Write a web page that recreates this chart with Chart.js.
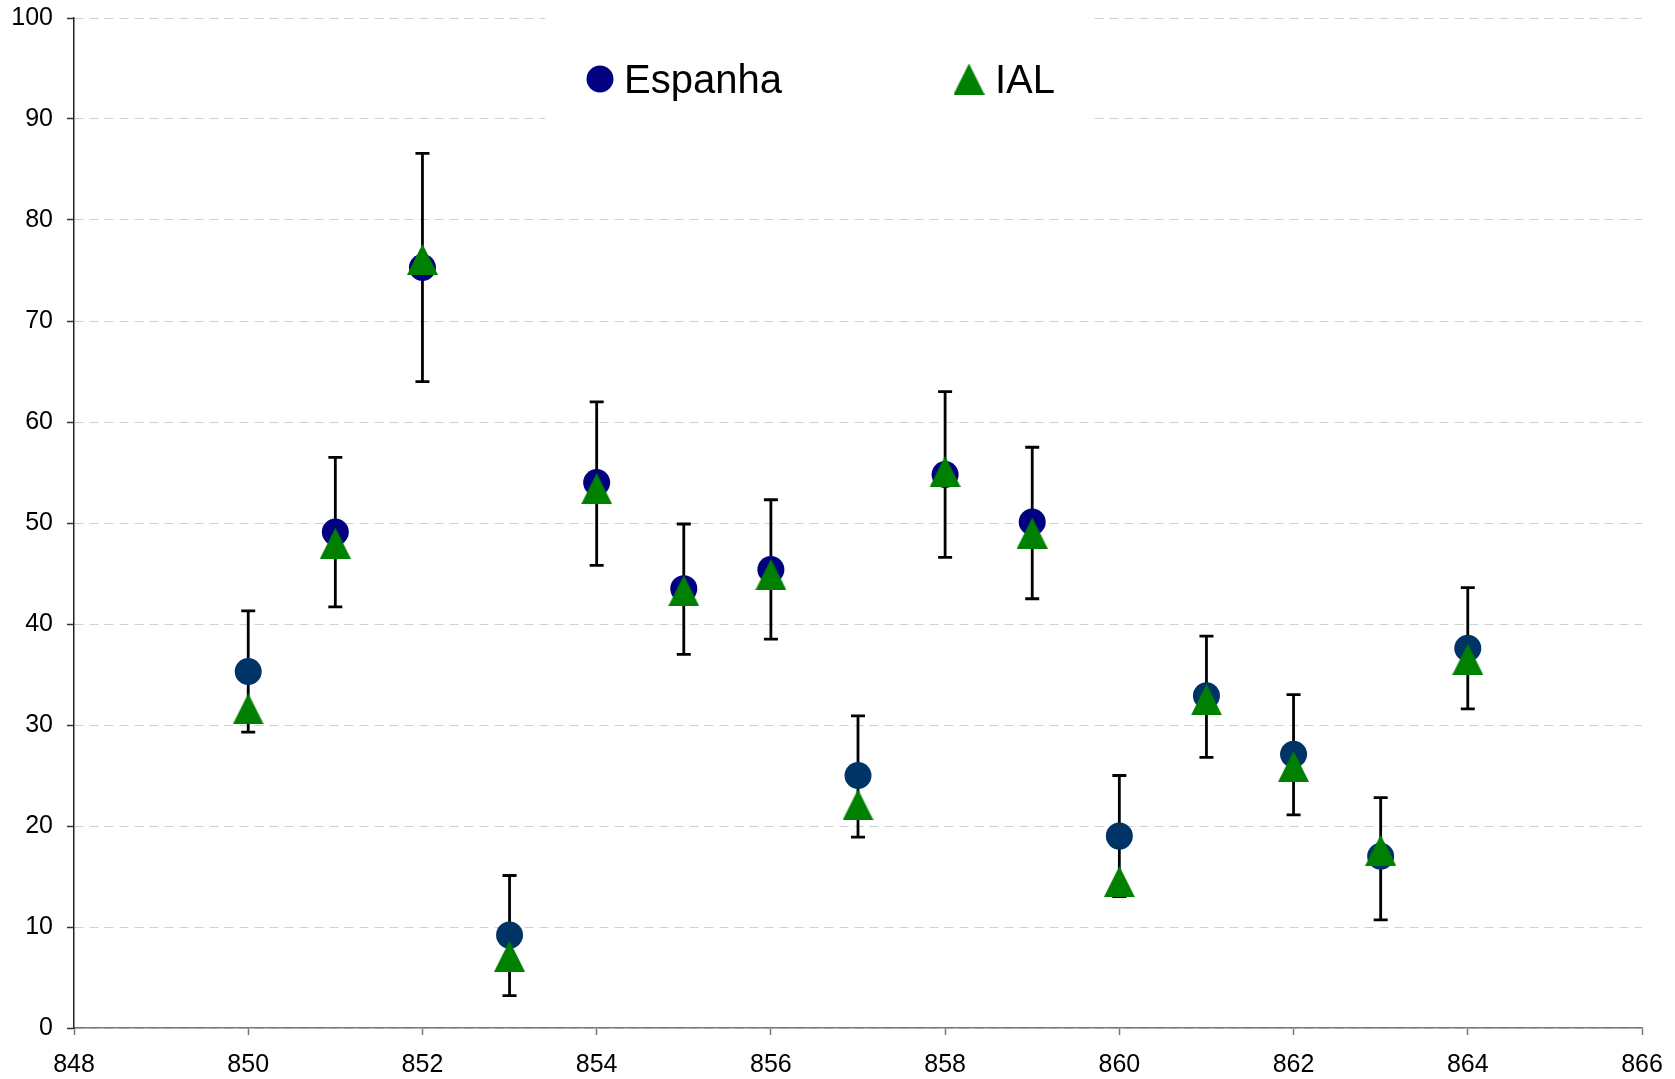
<!DOCTYPE html>
<html>
<head>
<meta charset="utf-8">
<script src="https://cdn.jsdelivr.net/npm/chart.js@4/dist/chart.umd.min.js"></script>
<style>
  html, body { margin: 0; padding: 0; background: #fff; }
  #wrap { width: 1675px; height: 1079px; }
</style>
</head>
<body>
<div id="wrap"><canvas id="grafico" width="1675" height="1079"></canvas></div>
<script>
// Données
const annees = [850, 851, 852, 853, 854, 855, 856, 857, 858, 859, 860, 861, 862, 863, 864];
const espanha = [35.3, 49.1, 75.3, 9.2, 54.0, 43.5, 45.4, 25.0, 54.8, 50.1, 19.0, 32.9, 27.1, 17.0, 37.6];
const ial = [31.6, 48.0, 76.1, 7.1, 53.4, 43.3, 44.9, 22.1, 55.1, 49.0, 14.5, 32.5, 25.9, 17.6, 36.5];
const erroSup = [41.3, 56.5, 86.6, 15.1, 62.0, 49.9, 52.3, 30.9, 63.0, 57.5, 25.0, 38.8, 33.0, 22.8, 43.6];
const erroInf = [29.3, 41.7, 64.0, 3.2, 45.8, 37.0, 38.5, 18.9, 46.6, 42.5, 13.0, 26.8, 21.1, 10.7, 31.6];
const series = ['Espanha', 'IAL'];

const corCirculo = ['#003366', '#000080', '#000080', '#003366', '#000080', '#000080', '#000080',
  '#003366', '#000080', '#000080', '#003366', '#003366', '#003366', '#003366', '#003366'];
const verde = '#008000';
const fonte = "'Liberation Sans', Arial, Helvetica, sans-serif";

// triangle centré sur sa boîte (comme Excel)
function fazerTriangulo(t) {
  const c = document.createElement('canvas');
  c.width = t; c.height = t;
  const g = c.getContext('2d');
  g.fillStyle = verde;
  g.beginPath();
  g.moveTo(t / 2, 0);
  g.lineTo(t, t);
  g.lineTo(0, t);
  g.closePath();
  g.fill();
  return c;
}
const triangulo = fazerTriangulo(31);

// barres d'erreur + cadre blanc de la légende
const pluginErros = {
  id: 'erros',
  beforeDatasetsDraw(chart) {
    const ctx = chart.ctx;
    const sx = chart.scales.x, sy = chart.scales.y;
    ctx.save();
    ctx.fillStyle = '#fff';
    ctx.fillRect(545, 0, 543, 135);

    ctx.strokeStyle = '#000';
    ctx.lineWidth = 2.8;
    annees.forEach((a, i) => {
      const x = sx.getPixelForValue(a);
      const y1 = sy.getPixelForValue(erroSup[i]);
      const y2 = sy.getPixelForValue(erroInf[i]);
      ctx.beginPath();
      ctx.moveTo(x, y1); ctx.lineTo(x, y2);
      ctx.moveTo(x - 7, y1); ctx.lineTo(x + 7, y1);
      ctx.moveTo(x - 7, y2); ctx.lineTo(x + 7, y2);
      ctx.stroke();
    });
    ctx.restore();
  },
  afterDatasetsDraw(chart) {
    const ctx = chart.ctx;
    ctx.save();
    ctx.fillStyle = '#000080';
    ctx.beginPath();
    ctx.arc(600, 79, 13.5, 0, Math.PI * 2);
    ctx.fill();
    ctx.drawImage(triangulo, 969 - 15.5, 79 - 15.5);
    ctx.fillStyle = '#000';
    ctx.font = '40px ' + fonte;
    ctx.textBaseline = 'alphabetic';
    ctx.fillText(series[0], 624, 93);
    ctx.fillText(series[1], 995, 93);
    ctx.restore();
  }
};

new Chart(document.getElementById('grafico'), {
  type: 'scatter',
  data: {
    datasets: [{
      label: series[0],
      data: annees.map((a, i) => ({ x: a, y: espanha[i] })),
      pointStyle: 'circle',
      pointRadius: 13.5,
      pointBackgroundColor: corCirculo,
      pointBorderWidth: 0,
      order: 2
    }, {
      label: series[1],
      data: annees.map((a, i) => ({ x: a, y: ial[i] })),
      pointStyle: triangulo,
      pointRadius: 15.5,
      pointBackgroundColor: verde,
      pointBorderWidth: 0,
      order: 1
    }]
  },
  options: {
    responsive: false,
    animation: false,
    events: [],
    layout: { padding: { left: 0, right: 33, top: 18, bottom: 0 } },
    plugins: {
      legend: { display: false },
      tooltip: { enabled: false }
    },
    scales: {
      x: {
        type: 'linear',
        min: 848,
        max: 866,
        afterFit: s => { s.height = 51; s.paddingLeft = 0; s.paddingRight = 0; },
        ticks: {
          stepSize: 2,
          color: '#000',
          padding: 15,
          font: { family: fonte, size: 25 }
        },
        grid: {
          drawOnChartArea: false,
          tickLength: 7,
          tickColor: '#777',
          tickWidth: 1.5
        },
        border: { color: '#777', width: 1.5 }
      },
      y: {
        min: 0,
        max: 100,
        afterFit: s => { s.width = 74; s.paddingTop = 0; s.paddingBottom = 0; },
        ticks: {
          stepSize: 10,
          color: '#000',
          padding: 14,
          font: { family: fonte, size: 25 }
        },
        grid: {
          color: '#d0d0d0',
          lineWidth: 1,
          tickLength: 7,
          tickColor: '#333',
          tickWidth: 1.5
        },
        border: { color: '#222', width: 1.5, dash: [9, 6] }
      }
    }
  },
  plugins: [pluginErros]
});
</script>
</body>
</html>
